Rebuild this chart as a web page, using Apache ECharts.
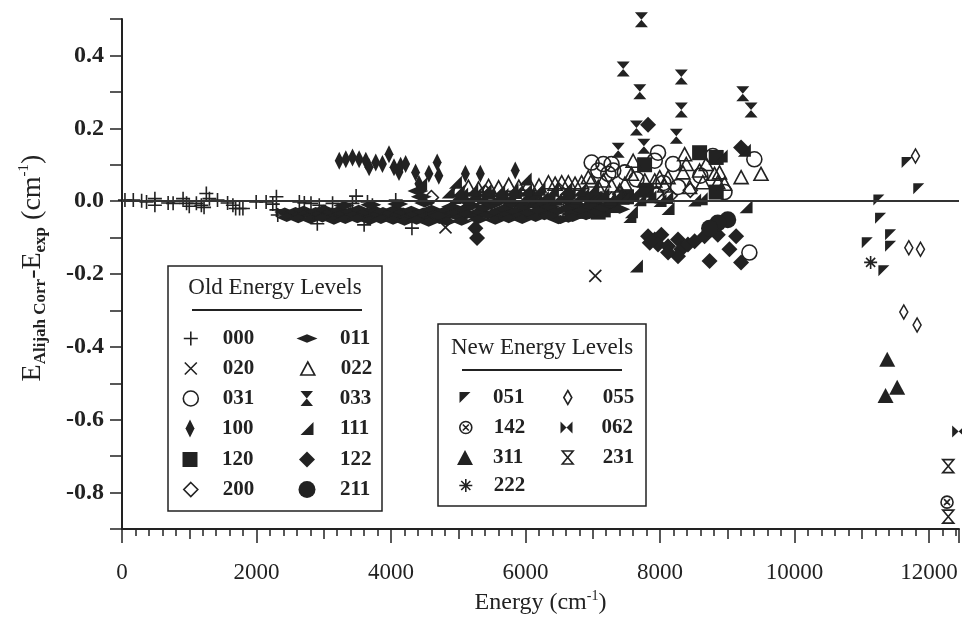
<!DOCTYPE html>
<html><head><meta charset="utf-8">
<script src="https://cdn.jsdelivr.net/npm/echarts/dist/echarts.min.js"></script>
<style>html,body{margin:0;padding:0;background:#fff}#c{width:962px;height:620px}</style>
</head><body><div id="c"></div>
<script>
// ---------------- DATA ----------------
const levelNames = ['000','020','031','100','120','200','011','022','033','111','122','211','051','142','311','222','055','062','231'];
const xTickValues = [0,2000,4000,6000,8000,10000,12000];
const yTickValues = [-0.8,-0.6,-0.4,-0.2,0.0,0.2,0.4];

const s000 = [[44,0.003],[168,0.003],[292,0.001],[365,-0.002],[489,0.007],[489,-0.011],[686,-0.005],[760,-0.006],[908,0.007],[960,-0.006],[1000,-0.014],[1106,-0.006],[1180,-0.011],[1220,-0.017],[1254,0.021],[1300,0.007],[1420,0.003],[1570,-0.005],[1649,-0.011],[1690,-0.020],[1748,-0.020],[1798,-0.020],[1995,-0.002],[2143,-0.002],[2242,-0.008],[2296,0.012],[2296,-0.024],[2316,-0.038],[2637,-0.002],[2711,-0.005],[2810,-0.006],[2904,-0.062],[2933,-0.011],[3131,-0.006],[3427,-0.006],[3481,0.014],[3600,-0.065],[3650,-0.002],[3723,-0.011],[4070,0.003],[4311,-0.074]];
const s020 = [[4810,-0.072],[6637,-0.024],[7037,-0.205],[5900,-0.006],[7200,0.010],[5450,-0.015]];
const s031 = [[6983,0.106],[7156,0.102],[7279,0.102],[7304,0.084],[7081,0.084],[7970,0.133],[7921,0.111],[8193,0.102],[8267,0.039],[8785,0.124],[8958,0.025],[9402,0.115],[9328,-0.141],[7230,0.075],[7477,0.079],[7946,0.016],[7650,0.060],[8050,0.050],[8600,0.070]];
const s100 = [[3230,0.111],[3328,0.115],[3427,0.120],[3526,0.115],[3625,0.111],[3674,0.093],[3773,0.106],[3872,0.102],[3970,0.129],[4044,0.093],[4119,0.080],[4143,0.097],[4217,0.102],[4365,0.079],[4563,0.075],[4686,0.106],[4711,0.070],[5106,0.075],[5328,0.075],[5847,0.084],[4415,0.048]];
const s120 = [[8588,0.133],[8835,0.120],[6983,-0.015],[7156,-0.024],[7501,0.012],[7797,0.030],[8835,0.025],[6300,-0.010],[6700,-0.020],[7300,-0.012],[7000,0.005],[7770,0.100],[6850,-0.028],[7080,-0.030]];
const s200 = [[4600,0.010],[5400,0.025],[6500,0.030],[7946,0.022],[8150,0.015],[7400,0.020],[8450,0.030]];
const s011 = [[2420,-0.030],[2500,-0.036],[2580,-0.028],[2650,-0.038],[2700,-0.025],[2760,-0.033],[2830,-0.040],[2880,-0.028],[2950,-0.035],[3000,-0.022],
  [3060,-0.038],[3120,-0.030],[3180,-0.042],[3230,-0.025],[3290,-0.034],[3350,-0.045],[3400,-0.028],[3460,-0.037],[3520,-0.022],[3580,-0.040],
  [3640,-0.030],[3700,-0.045],[3760,-0.025],[3820,-0.036],[3880,-0.028],[3940,-0.042],[4000,-0.033],[4060,-0.022],[4120,-0.038],[4180,-0.030],
  [4240,-0.045],[4300,-0.025],[4360,-0.036],[4420,-0.048],[4480,-0.030],[4540,-0.040],[4600,-0.022],[4660,-0.035],[4720,-0.050],[4780,-0.028],
  [4840,-0.040],[4900,-0.015],[4960,-0.032],[5020,-0.045],[5080,-0.022],[5140,-0.035],[5200,-0.012],[5260,-0.042],[5320,-0.028],[5380,-0.018],
  [5440,-0.038],[5500,-0.010],[5560,-0.030],[5620,-0.045],[5680,-0.020],[5740,-0.035],[5800,-0.008],[5860,-0.028],[5920,-0.040],[5980,-0.015],
  [6050,-0.032],[6120,-0.010],[6200,-0.025],[6280,-0.040],[6360,-0.015],[6440,-0.030],[6520,-0.050],[6600,-0.020],[6680,-0.035],[6760,-0.010],
  [6850,-0.025],[6950,-0.012],[7050,-0.030],[7150,-0.018],[7250,-0.008],[7400,-0.022],
  [4400,0.028],[4450,0.012],[4563,-0.051],[4830,-0.056],[6489,-0.051],[6637,-0.047],
  [2450,-0.045],[2620,-0.048],[2800,-0.050],[2980,-0.046],[3150,-0.052],[3320,-0.050],[3500,-0.048],[3680,-0.053],[3850,-0.050],[4030,-0.052],[4200,-0.055],[4380,-0.052],[4560,-0.058],[4700,-0.040],[5050,-0.055],[5300,-0.050],[5550,-0.052],[5750,-0.048],[5950,-0.050],[6150,-0.045],[6350,-0.040],[6700,-0.045],[6900,-0.040],
  [3300,-0.012],[3700,-0.010],[4100,-0.008],[4500,-0.005],[5100,0.002],[5600,0.000],[6100,0.003],[6600,0.002]];
const s022 = [[5000,0.035],[5150,0.040],[5300,0.035],[5450,0.042],[5600,0.038],[5750,0.045],[5900,0.040],[6050,0.048],[6200,0.043],[6341,0.052],[6440,0.048],[6538,0.052],[6637,0.052],[6736,0.048],[6834,0.052],[6933,0.066],[6983,0.057],[7081,0.039],[7156,0.057],[7279,0.043],[7402,0.030],[7477,0.048],[7575,0.075],[7600,0.111],[7773,0.057],[7921,0.057],[7995,0.066],[8069,0.043],[8119,0.066],[8341,0.079],[8365,0.129],[8390,0.102],[8440,0.039],[8588,0.084],[8637,0.052],[8687,0.102],[8810,0.075],[8859,0.052],[8884,0.079],[8958,0.048],[9205,0.066],[9501,0.075]];
const s033 = [[7723,0.498],[7452,0.363],[8316,0.341],[7699,0.300],[9230,0.295],[9353,0.250],[8316,0.250],[7649,0.201],[8242,0.178],[7378,0.140],[7760,0.151]];
const s111 = [[4950,0.010],[5050,0.020],[5150,0.005],[5250,0.018],[5350,0.010],[5450,0.022],[5550,0.008],[5650,0.018],[5750,0.012],[5850,0.024],[5950,0.006],[6050,0.016],[6150,0.025],[6250,0.010],[6350,0.020],[6450,0.005],[6550,0.015],[6650,0.022],[6750,0.008],[6850,0.018],[6950,0.003],[7050,0.012],[7150,0.020],[7250,0.005],[7350,0.015],[7450,0.008],[7600,0.018],[7700,0.004],[7850,0.012],[8000,0.002],[8100,0.010],
  [4440,0.048],[4958,0.052],[5995,0.061],[7551,-0.042],[7575,-0.029],[8119,-0.020],[8514,0.003],[8612,0.007],[9279,-0.015],[8909,0.124],[9254,0.140],[7649,-0.178],
  [4850,0.025],[5000,0.028],[5200,0.030],[5400,0.030],[5600,0.028],[5800,0.032],[6000,0.030],[6200,0.033],[6400,0.030],[6600,0.035],[6800,0.030],[7000,0.035]];
const s122 = [[7822,-0.096],[7921,-0.105],[8020,-0.092],[7970,-0.119],[8119,-0.124],[8267,-0.105],[8316,-0.132],[8267,-0.151],[8415,-0.119],[8514,-0.110],[8662,-0.096],[8760,-0.078],[8859,-0.092],[8736,-0.164],[9032,-0.132],[9131,-0.096],[9205,-0.168],[8119,-0.141],[7847,-0.114],[7822,0.210],[9205,0.147],[5254,-0.074],[5279,-0.101]];
const s211 = [[9007,-0.051],[8859,-0.060],[8736,-0.074]];
const s051 = [[11674,0.106],[11847,0.034],[11254,0.003],[11279,-0.047],[11427,-0.092],[11081,-0.114],[11427,-0.124],[11328,-0.191]];
const s142 = [[12267,-0.826]];
const s311 = [[11378,-0.434],[11526,-0.511],[11353,-0.533]];
const s222 = [[11131,-0.168]];
const s055 = [[11798,0.124],[11699,-0.128],[11872,-0.132],[11624,-0.304],[11822,-0.340]];
const s062 = [[12440,-0.632]];
const s231 = [[12285,-0.727],[12285,-0.866]];

const seriesData = {'000':s000,'020':s020,'031':s031,'100':s100,'120':s120,'200':s200,'011':s011,'022':s022,'033':s033,'111':s111,'122':s122,'211':s211,'051':s051,'142':s142,'311':s311,'222':s222,'055':s055,'062':s062,'231':s231};

// ---------------- STYLE ----------------
const INK = '#222';
const FONT = '"Liberation Serif", "Times New Roman", serif';
const sym = {
 '000': {symbol:'path://M0,5L10,5M5,0L5,10', size:[14,14], open:true},
 '020': {symbol:'path://M0,0L10,10M10,0L0,10', size:[12,12], open:true},
 '031': {symbol:'circle', size:[15,15], open:true},
 '100': {symbol:'path://M4,0L8,8L4,16L0,8Z', size:[9,18]},
 '120': {symbol:'rect', size:[15,15]},
 '200': {symbol:'diamond', size:[14,14], open:true},
 '011': {symbol:'path://M0,4L10,0L20,4L10,8Z', size:[21,9]},
 '022': {symbol:'triangle', size:[14,13], open:true},
 '033': {symbol:'path://M0,0L10,0L0,12L10,12Z', size:[13,15]},
 '111': {symbol:'path://M10,0L10,10L0,10Z', size:[13,13]},
 '122': {symbol:'diamond', size:[16,16]},
 '211': {symbol:'circle', size:[17,17]},
 '051': {symbol:'path://M0,0L10,0L0,10Z', size:[11,11]},
 '142': {symbol:'path://M0,6A6,6,0,1,1,12,6A6,6,0,1,1,0,6ZM3,3L9,9M9,3L3,9', size:[12,12], open:true},
 '311': {symbol:'triangle', size:[16,15]},
 '222': {symbol:'path://M5,0L5,10M0,5L10,5M1.5,1.5L8.5,8.5M8.5,1.5L1.5,8.5', size:[13,13], open:true},
 '055': {symbol:'path://M4,0L8,7L4,14L0,7Z', size:[8,14], open:true},
 '062': {symbol:'path://M0,0L0,10L10,0L10,10Z', size:[13,12]},
 '231': {symbol:'path://M0,0L10,0L0,12L10,12Z', size:[11,13], open:true}
};
function itemStyleOf(n){
  return sym[n].open ? {color:'rgba(0,0,0,0)', borderColor:INK, borderWidth:1.6, opacity:1}
                     : {color:INK, borderWidth:0, opacity:1};
}
// legend layout: [name, iconCenterX, textStartX, rowCenterY]
const legendLayout = [
 ['000',190,222,338],['020',190,222,368],['031',190,222,398],['100',190,222,428],['120',190,222,459],['200',190,222,489],
 ['011',307,340,338],['022',307,340,368],['033',307,340,398],['111',307,340,428],['122',307,340,459],['211',307,340,489],
 ['051',465,493,397],['142',465,493,427],['311',465,493,457],['222',465,493,485],
 ['055',567,602,397],['062',567,602,427],['231',567,602,457]
];
const legends = legendLayout.map(([n,cx,tx,cy]) => {
  const [w,h] = sym[n].size;
  const left = cx - w/2;
  return {
    data:[{name:n, icon:sym[n].symbol}], left:left, top:cy-10, orient:'vertical',
    itemWidth:w, itemHeight:h, padding:0, selectedMode:false,
    itemStyle:itemStyleOf(n),
    textStyle:{fontFamily:FONT, fontSize:21, fontWeight:'bold', color:INK, lineHeight:20, padding:[0,0,0,Math.max(0,tx-left-w-5)]}
  };
});

const XMAX = 12445;
const series = levelNames.map((n,i) => ({
  name:n, type:'scatter', data:seriesData[n], symbol:sym[n].symbol, symbolSize:sym[n].size,
  itemStyle:itemStyleOf(n), emphasis:{disabled:true}, z: 2,
  markLine: i===0 ? {silent:true, symbol:'none', label:{show:false}, animation:false,
     lineStyle:{color:'#333', width:2, type:'solid'}, data:[{yAxis:0}]} : undefined
}));

const xAxisBase = {type:'value', min:0, max:XMAX, position:'bottom', splitLine:{show:false}, gridIndex:0};
const option = {
  animation:false,
  grid:{left:122, right:0, top:19, bottom:81, containLabel:false},
  legend: legends,
  xAxis:[
    Object.assign({}, xAxisBase, {interval:2000,
      axisLine:{onZero:false, lineStyle:{color:INK, width:2}},
      axisTick:{length:14, lineStyle:{color:INK, width:1.5}},
      axisLabel:{margin:32, fontFamily:FONT, fontSize:23, color:INK,
        formatter:v => xTickValues.indexOf(v) >= 0 ? String(v) : ''},
      name:'{m|Energy (cm}{p|-1}{m|)}', nameLocation:'middle', nameGap:59,
      nameTextStyle:{rich:{
        m:{fontFamily:FONT, fontSize:24, color:INK, lineHeight:28, verticalAlign:'middle'},
        p:{fontFamily:FONT, fontSize:14, color:INK, lineHeight:14, verticalAlign:'top'}}}
    }),
    Object.assign({}, xAxisBase, {interval:1000, axisLine:{show:false, onZero:false},
      axisTick:{length:10, lineStyle:{color:INK, width:1.5}}, axisLabel:{show:false}}),
    Object.assign({}, xAxisBase, {interval:200, axisLine:{show:false, onZero:false},
      axisTick:{length:7, lineStyle:{color:INK, width:1.5}}, axisLabel:{show:false}})
  ],
  yAxis:[{type:'value', min:-0.9, max:0.5, interval:0.1, splitLine:{show:false},
    axisLine:{onZero:false, lineStyle:{color:INK, width:2}},
    axisTick:{length:12, lineStyle:{color:INK, width:1.5}},
    axisLabel:{margin:18, fontFamily:FONT, fontSize:24, fontWeight:'bold', color:INK,
      formatter:v => { const t = Math.round(v*10)/10; return yTickValues.indexOf(t) >= 0 ? t.toFixed(1) : ''; }}
  }],
  graphic:[
    {type:'rect', shape:{x:168,y:266,width:214,height:245}, style:{fill:'none', stroke:INK, lineWidth:1.5}, silent:true},
    {type:'text', x:275, y:288, style:{text:'Old Energy Levels', fontFamily:FONT, fontSize:23, fill:INK, align:'center', verticalAlign:'middle'}, silent:true},
    {type:'line', shape:{x1:192,y1:310,x2:362,y2:310}, style:{stroke:INK, lineWidth:2}, silent:true},
    {type:'rect', shape:{x:438,y:324,width:208,height:182}, style:{fill:'none', stroke:INK, lineWidth:1.5}, silent:true},
    {type:'text', x:542, y:348, style:{text:'New Energy Levels', fontFamily:FONT, fontSize:23, fill:INK, align:'center', verticalAlign:'middle'}, silent:true},
    {type:'line', shape:{x1:462,y1:370,x2:622,y2:370}, style:{stroke:INK, lineWidth:2}, silent:true},
    {type:'text', x:33, y:268, rotation:Math.PI/2, silent:true, style:{
      text:'{m|E}{s|Alijah Corr}{m|-E}{s|exp}{m| (cm}{p|-1}{m|)}', align:'center', verticalAlign:'middle',
      rich:{
        m:{fontFamily:FONT, fontSize:28, fill:INK, lineHeight:32, verticalAlign:'middle'},
        s:{fontFamily:FONT, fontSize:17, fontWeight:'bold', fill:INK, lineHeight:16, verticalAlign:'bottom'},
        p:{fontFamily:FONT, fontSize:15, fill:INK, lineHeight:14, verticalAlign:'top'}
      }}}
  ],
  series: series
};
const chart = echarts.init(document.getElementById('c'), null, {renderer:'canvas'});
chart.setOption(option);
</script></body></html>
